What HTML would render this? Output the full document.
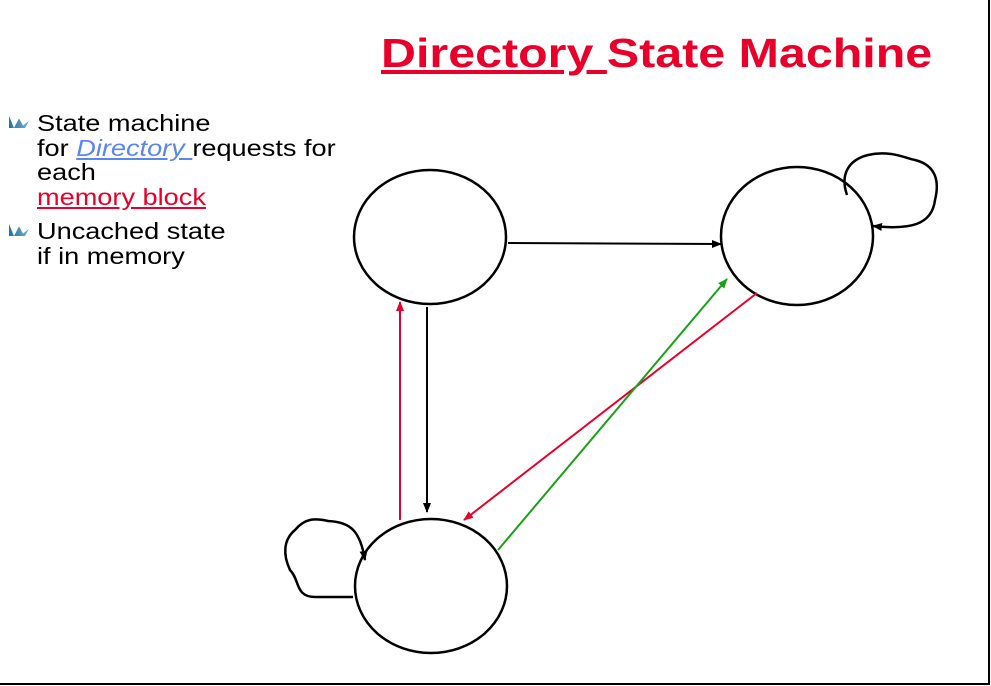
<!DOCTYPE html>
<html><head><style>
body{margin:0;width:991px;height:686px;background:#fff;position:relative;overflow:hidden;font-family:"Liberation Sans",sans-serif}
.t{position:absolute;white-space:nowrap;transform-origin:0 0}
</style></head><body>
<div style="position:absolute;left:0;top:0;width:988px;height:683px;border-right:2px solid #000;border-bottom:2px solid #000"></div>
<div class="t" style="left:381px;top:30px;font-size:41px;font-weight:bold;color:#e8002a;transform:scaleX(1.18)"><span style="text-decoration:underline">Directory </span>State Machine</div>
<div class="t" style="left:37px;top:111px;font-size:23px;line-height:24.5px;color:#000;transform:scaleX(1.18)">State machine<br>for <span style="color:#5b86f0;font-style:italic;text-decoration:underline">Directory </span>requests for<br>each<br><span style="color:#e8002a;text-decoration:underline">memory block</span></div>
<div class="t" style="left:37px;top:219px;font-size:23px;line-height:24.5px;color:#000;transform:scaleX(1.18)">Uncached state<br>if in memory</div>
<div class="t" style="left:9px;top:116px;width:20px;height:12px;background:linear-gradient(90deg,#2a6f9a,#6ab0d8);clip-path:polygon(0 0,25% 100%,50% 20%,70% 80%,100% 40%,80% 100%,0 100%)"></div>
<div class="t" style="left:9px;top:224px;width:20px;height:12px;background:linear-gradient(90deg,#2a6f9a,#6ab0d8);clip-path:polygon(0 0,25% 100%,50% 20%,70% 80%,100% 40%,80% 100%,0 100%)"></div>
<svg width="991" height="686" style="position:absolute;left:0;top:0">
<defs>
<marker id="ak" markerWidth="10" markerHeight="10" refX="9" refY="5" orient="auto" markerUnits="userSpaceOnUse"><path d="M0,1 L10,5 L0,9z" fill="#000"/></marker>
<marker id="ar" markerWidth="10" markerHeight="10" refX="9" refY="5" orient="auto" markerUnits="userSpaceOnUse"><path d="M0,1 L10,5 L0,9z" fill="#e8002a"/></marker>
<marker id="ag" markerWidth="10" markerHeight="10" refX="9" refY="5" orient="auto" markerUnits="userSpaceOnUse"><path d="M0,1 L10,5 L0,9z" fill="#1aa01a"/></marker>
</defs>
<g fill="none" stroke="#000" stroke-width="2.5">
<ellipse cx="430" cy="237" rx="76" ry="67"/>
<ellipse cx="797" cy="236" rx="76" ry="69"/>
<ellipse cx="431" cy="586" rx="76" ry="67"/>
<path d="M847,195 C840,175 848,160 868,155 C890,150 905,158 915,160 C935,165 940,180 935,200 C932,225 910,230 873,226" marker-end="url(#ak)"/>
<path d="M353,597 L315,597 C295,597 300,580 290,570 C283,555 283,540 295,530 C305,518 315,518 328,521 C350,522 360,530 365,560" marker-end="url(#ak)"/>
<path d="M508,243 L721,244" marker-end="url(#ak)" stroke-width="2"/>
<path d="M427,307 L427,512" marker-end="url(#ak)" stroke-width="2"/>
</g>
<path d="M400,520 L400,302" stroke="#e8002a" stroke-width="2" marker-end="url(#ar)"/>
<path d="M757,293 L464,520" stroke="#e8002a" stroke-width="2" marker-end="url(#ar)"/>
<path d="M498,550 L727,279" stroke="#1aa01a" stroke-width="2" marker-end="url(#ag)"/>
</svg>
</body></html>
